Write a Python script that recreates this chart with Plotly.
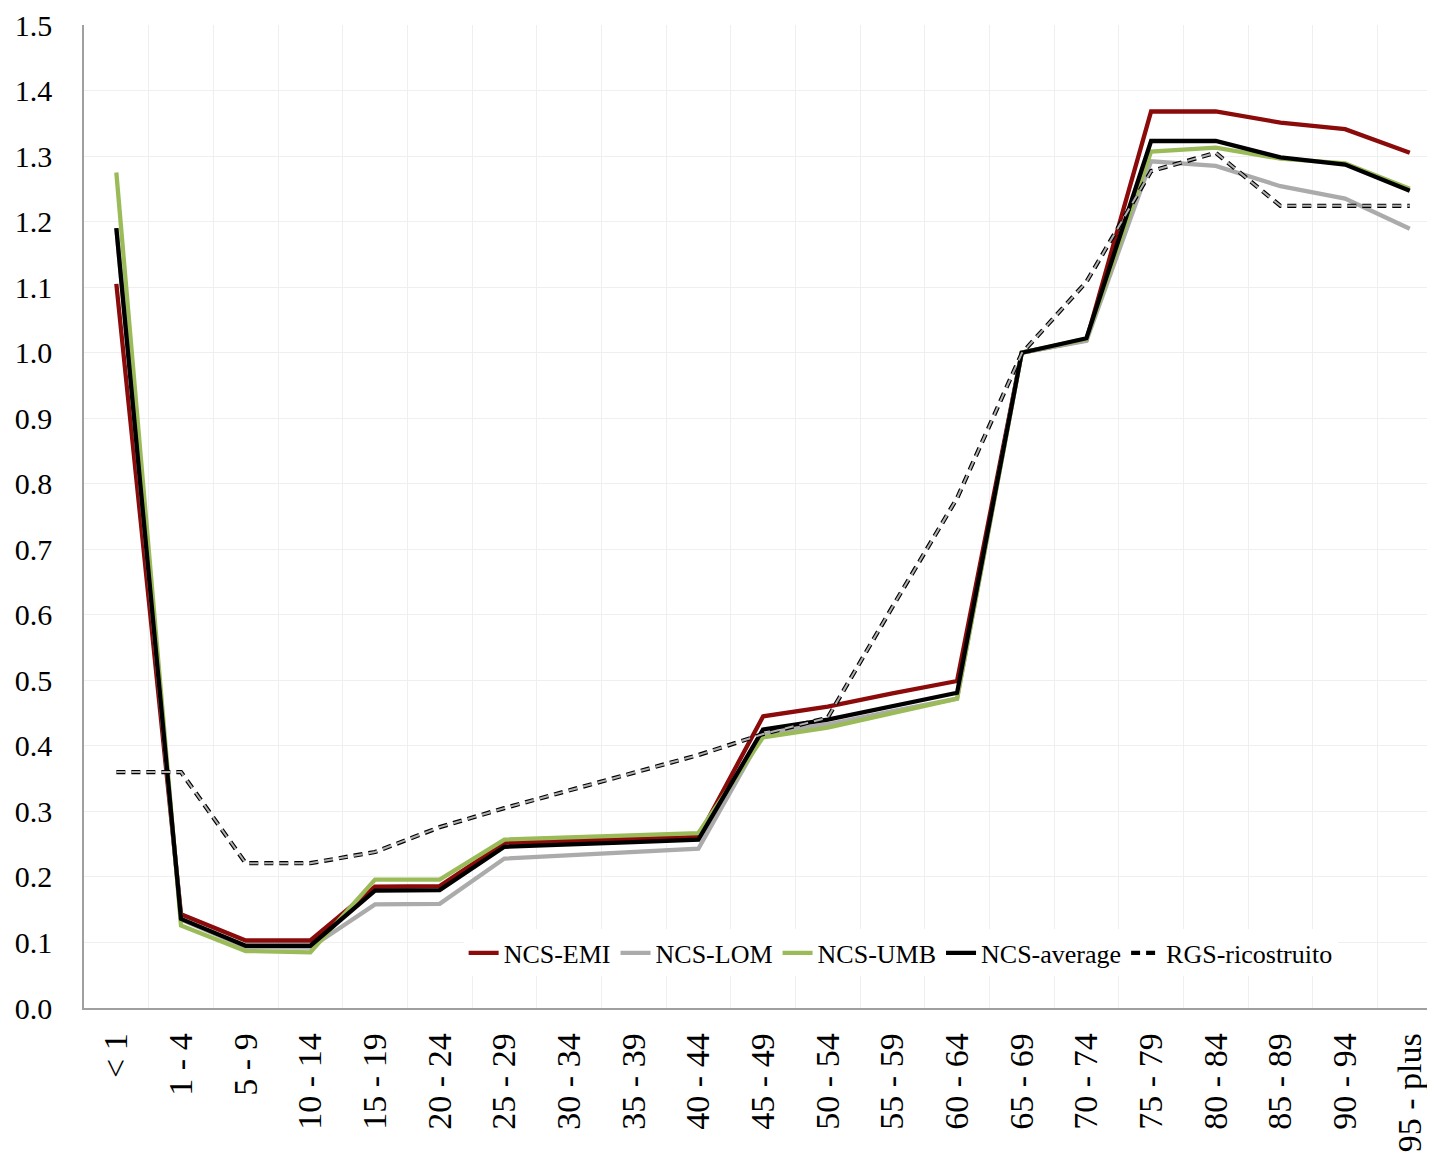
import plotly.graph_objects as go

categories = ["< 1", "1 - 4", "5 - 9", "10 - 14", "15 - 19", "20 - 24", "25 - 29",
              "30 - 34", "35 - 39", "40 - 44", "45 - 49", "50 - 54", "55 - 59",
              "60 - 64", "65 - 69", "70 - 74", "75 - 79", "80 - 84", "85 - 89",
              "90 - 94", "95 - plus"]

ncs_emi = [1.105, 0.143, 0.103, 0.103, 0.185, 0.186, 0.252, 0.255, 0.258, 0.261,
           0.445, 0.460, 0.480, 0.499, 1.000, 1.019, 1.368, 1.368, 1.351, 1.341, 1.305]
ncs_lom = [1.190, 0.135, 0.093, 0.092, 0.158, 0.159, 0.228, 0.233, 0.238, 0.243,
           0.418, 0.433, 0.453, 0.472, 1.000, 1.018, 1.292, 1.285, 1.254, 1.235, 1.189]
ncs_umb = [1.275, 0.126, 0.087, 0.085, 0.196, 0.196, 0.257, 0.260, 0.263, 0.267,
           0.413, 0.428, 0.450, 0.472, 1.000, 1.021, 1.307, 1.313, 1.296, 1.289, 1.250]
ncs_avg = [1.190, 0.136, 0.095, 0.095, 0.179, 0.180, 0.246, 0.249, 0.253, 0.257,
           0.425, 0.440, 0.460, 0.481, 1.000, 1.022, 1.323, 1.323, 1.298, 1.287, 1.247]
rgs_ric = [0.360, 0.360, 0.221, 0.221, 0.238, 0.276, 0.305, 0.332, 0.360, 0.386,
           0.418, 0.443, 0.612, 0.778, 0.999, 1.108, 1.277, 1.305, 1.224, 1.224, 1.224]

y_ticks = [0.0, 0.1, 0.2, 0.3, 0.4, 0.5, 0.6, 0.7, 0.8, 0.9, 1.0, 1.1, 1.2, 1.3, 1.4, 1.5]
y_ticktext = [f"{v:.1f}" for v in y_ticks]

FONT = "Palatino Linotype, Book Antiqua, Palatino, Liberation Serif, serif"

fig = go.Figure()
series = [
    ("NCS-EMI", ncs_emi, "#8B0A0A"),
    ("NCS-LOM", ncs_lom, "#ABABAB"),
    ("NCS-UMB", ncs_umb, "#9BBB59"),
    ("NCS-average", ncs_avg, "#000000"),
]
for name, vals, col in series:
    fig.add_trace(go.Scatter(x=categories, y=vals, mode="lines", name=name,
                             line=dict(color=col, width=4.3)))

# dashed line drawn as black outline + grey core
fig.add_trace(go.Scatter(x=categories, y=rgs_ric, mode="lines", name="RGS-ricostruito",
                         line=dict(color="#000000", width=4.3, dash="9px,6px")))
fig.add_trace(go.Scatter(x=categories, y=rgs_ric, mode="lines", name="RGS-ricostruito",
                         showlegend=False, hoverinfo="skip",
                         line=dict(color="#B0B0B0", width=2, dash="9px,6px")))

fig.update_layout(
    width=1427, height=1155,
    margin=dict(l=76, r=0, t=17, b=155),
    paper_bgcolor="white", plot_bgcolor="white",
    font=dict(family=FONT, color="black"),
    showlegend=True,
    legend=dict(orientation="h", x=0.281, y=0.056, xanchor="left", yanchor="middle",
                bgcolor="white", font=dict(size=26, family=FONT),
                itemwidth=30, tracegroupgap=0),
)
fig.update_xaxes(
    type="category", categoryorder="array", categoryarray=categories,
    range=[-0.5, 20.39], automargin=False,
    tickson="boundaries", showgrid=True, gridcolor="#EFEFEF", gridwidth=1,
    showline=True, linecolor="#A0A0A0", linewidth=1.5,
    ticks="", ticklabelstandoff=10,
    tickangle=-90, tickfont=dict(size=34, family=FONT, color="black"),
    zeroline=False,
)
fig.update_yaxes(
    range=[0, 1.5], tickvals=y_ticks, ticktext=y_ticktext, automargin=False,
    showgrid=True, gridcolor="#EFEFEF", gridwidth=1,
    showline=True, linecolor="#A0A0A0", linewidth=1.5,
    ticks="outside", ticklen=24, tickcolor="rgba(0,0,0,0)",
    tickfont=dict(size=30, family=FONT, color="black"),
    zeroline=False,
)

fig.write_html("out.html")
